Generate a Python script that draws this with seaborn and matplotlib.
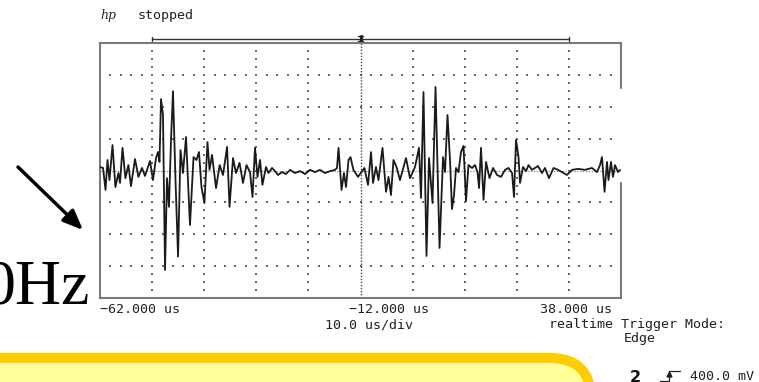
import numpy as np
import pandas as pd
import matplotlib
matplotlib.use("Agg")
import matplotlib.pyplot as plt
import seaborn as sns
from matplotlib.patches import FancyBboxPatch

# --- trace (time in us, amplitude in divisions) ---
time_us = [
    -62.00, -61.42, -60.94, -60.56, -60.18, -59.60, -59.04, -58.47, -58.16, -57.68,
    -57.12, -56.55, -56.05, -55.28, -54.63, -53.94, -53.36, -52.40, -51.83, -51.25,
    -50.87, -50.58, -50.29, -49.91, -49.52, -49.14, -48.76, -48.37, -47.99, -47.51,
    -47.02, -46.55, -46.07, -45.49, -45.11, -44.73, -44.05, -43.49, -43.00, -42.52,
    -41.96, -41.37, -40.98, -40.50, -39.73, -39.03, -38.39, -37.61, -37.14, -36.47,
    -35.90, -35.22, -34.55, -33.88, -33.21, -32.73, -32.25, -31.77, -31.29, -30.82,
    -30.14, -29.66, -28.98, -28.41, -27.83, -27.07, -26.30, -25.53, -24.57, -23.61,
    -22.65, -21.69, -20.73, -19.77, -18.81, -17.85, -16.89, -16.51, -16.22, -15.64,
    -15.17, -14.78, -14.30, -13.92, -13.36, -12.48, -11.25, -10.56, -9.98, -9.60,
    -9.03, -8.55, -7.78, -7.10, -6.62, -6.15, -5.67, -5.09, -4.42, -3.27,
    -2.50, -1.54, -0.77, -0.39, 0.09, 0.67, 1.15, 1.82, 2.40, 3.17,
    3.84, 4.22, 4.70, 5.18, 5.56, 5.95, 6.33, 6.81, 7.29, 7.77,
    8.25, 8.73, 9.40, 9.98, 10.46, 10.75, 11.13, 11.61, 12.09, 12.76,
    13.44, 14.20, 14.97, 15.74, 16.41, 17.09, 17.46, 17.85, 18.33, 18.62,
    19.19, 19.77, 20.25, 20.92, 21.50, 22.07, 22.84, 23.41, 24.18, 25.05,
    25.91, 26.68, 27.64, 28.60, 29.75, 31.09, 32.43, 33.39, 33.97, 34.35,
    34.84, 35.31, 35.60, 36.08, 36.46, 36.85, 37.42, 37.81,
]
amp_div = [
    0.11, 0.08, -0.61, 0.33, -0.30, 0.80, -0.52, -0.08, -0.39, 0.71,
    -0.24, 0.17, -0.49, 0.36, -0.20, 0.08, -0.17, 0.30, -0.30, 0.39,
    0.58, 0.27, 2.24, 1.74, -3.12, -0.24, -1.14, 0.96, 2.49, -0.30,
    -2.70, 0.64, -0.08, 1.05, -0.30, -1.71, 0.42, 0.33, 0.58, -0.52,
    -1.02, 0.89, 0.02, 0.49, -0.55, 0.17, -0.14, 0.74, -1.14, 0.39,
    -0.08, 0.24, -0.39, 0.17, -0.05, -0.83, 0.71, -0.20, 0.33, -0.45,
    0.11, -0.08, 0.08, -0.02, -0.14, -0.05, -0.11, 0.02, -0.08, -0.02,
    -0.11, 0.02, -0.05, 0.02, -0.08, -0.02, 0.02, 0.08, 0.71, -0.61,
    -0.08, -0.52, 0.33, 0.42, 0.02, -0.20, 0.08, -0.45, 0.58, -0.39,
    0.11, -0.30, 0.71, -0.67, -0.20, -0.77, 0.33, 0.11, -0.30, 0.39,
    -0.24, 0.11, 0.71, -0.86, 2.46, -2.68, 0.39, -1.02, 2.62, -2.43,
    0.42, -0.05, 1.74, 0.33, -1.21, -0.77, 0.08, -0.05, 0.58, 0.77,
    -0.96, 0.17, 0.08, 0.17, -0.05, -0.55, 0.71, -0.92, 0.27, -0.24,
    0.08, -0.14, -0.20, 0.02, 0.08, -0.08, -0.83, 0.96, 0.42, -0.39,
    0.11, -0.02, 0.17, 0.02, 0.08, 0.14, -0.08, 0.08, -0.24, 0.08,
    0.02, -0.05, -0.14, 0.02, 0.05, 0.02, 0.08, -0.05, 0.17, 0.42,
    -0.67, 0.27, -0.30, 0.27, -0.20, 0.17, -0.05, 0.02,
]

# scope settings
T_LEFT, T_CENTER, T_RIGHT = -62.0, -12.0, 38.0
US_PER_DIV = 10.0
N_VDIV = 4
left_label = "\u221262.000 us"
center_label = "\u221212.000 us"
right_label = "38.000 us"
timebase_label = "10.0 us/div"
trig_label = "realtime Trigger Mode:"
trig_mode = "Edge"
chan_label = "2"
level_label = "400.0 mV"

sns.set_style("white")
plt.rcParams["font.family"] = ["DejaVu Sans"]

W, H = 759, 382
fig = plt.figure(figsize=(W / 100, H / 100), dpi=100)

# background layer in pixel units (for slide decorations)
bg = fig.add_axes([0, 0, 1, 1], zorder=0)
bg.set_xlim(0, W)
bg.set_ylim(H, 0)
bg.axis("off")

# scope screen
ax = fig.add_axes([100 / W, 1 - 298 / H, 521 / W, 255 / H], zorder=2)
ax.set_facecolor("white")

df = pd.DataFrame({"t": time_us, "v": amp_div})
sns.lineplot(data=df, x="t", y="v", ax=ax, color="#1a1a1a", linewidth=1.3,
             estimator=None, sort=False, zorder=5)

ax.set_xlim(T_LEFT, T_RIGHT)
ax.set_ylim(-N_VDIV, N_VDIV)
ax.set_xlabel("")
ax.set_ylabel("")
ax.set_xticks([])
ax.set_yticks([])

# graticule dots
grid_cols = [c for c in np.arange(T_LEFT + US_PER_DIV, T_RIGHT, US_PER_DIV) if abs(c - T_CENTER) > 1e-6]
grid_rows = [r for r in range(-N_VDIV + 1, N_VDIV) if r != 0]
row_x = np.arange(T_LEFT + 2, T_RIGHT - 1, 2.0)
rx, ry = np.meshgrid(row_x, grid_rows)
ax.scatter(rx.ravel(), ry.ravel(), s=1.3, marker="s", color="#666666", linewidths=0, zorder=1)
col_y = np.arange(-N_VDIV + 0.25, N_VDIV, 0.25)
cx, cy = np.meshgrid(grid_cols, col_y)
ax.scatter(cx.ravel(), cy.ravel(), s=1.3, marker="s", color="#666666", linewidths=0, zorder=1)

# centre axes (denser dotting)
ax.plot([T_LEFT, T_RIGHT], [0, 0], color="#8a8a8a", lw=0.8, ls=(0, (1.2, 1.4)), zorder=2)
ax.plot([T_CENTER, T_CENTER], [-N_VDIV, 4.12], color="#444444", lw=1.0, ls=(0, (1, 1.2)),
        zorder=2, clip_on=False)

# frame
for side in ["left", "top", "bottom"]:
    ax.spines[side].set_color("#7a7a7a")
    ax.spines[side].set_linewidth(1.5)
ax.spines["right"].set_visible(False)
ax.plot([T_RIGHT, T_RIGHT], [N_VDIV, 2.58], color="#7a7a7a", lw=1.5, clip_on=False, zorder=6)
ax.plot([T_RIGHT, T_RIGHT], [-0.39, -N_VDIV], color="#7a7a7a", lw=1.5, clip_on=False, zorder=6)

# acquisition bar above the screen with trigger marker
ax.plot([-52, 28], [4.13, 4.13], color="#333333", lw=1.0, clip_on=False)
for xe in (-52, 28):
    ax.plot([xe, xe], [4.07, 4.19], color="#333333", lw=1.0, clip_on=False)
ax.plot([T_CENTER, T_CENTER], [4.06, 4.22], color="#222222", lw=2.2, clip_on=False)
ax.plot([T_CENTER - 0.55, T_CENTER + 0.55], [4.21, 4.21], color="#222222", lw=1.0, clip_on=False)
ax.plot([T_CENTER - 0.55, T_CENTER + 0.55], [4.07, 4.07], color="#222222", lw=1.0, clip_on=False)

# scope text
mono = dict(family="DejaVu Sans Mono", fontsize=9.6, color="#222222")
bg.text(100, 19, "hp", fontsize=9, style="italic", family="DejaVu Serif", color="#222222", va="baseline")
bg.text(138, 18.5, "stopped", va="baseline", **mono)
bg.text(100, 313, left_label, va="baseline", **mono)
bg.text(349, 313, center_label, va="baseline", **mono)
bg.text(540, 313, right_label, va="baseline", **mono)
bg.text(325, 328, timebase_label, va="baseline", **mono)
bg.text(549, 328, trig_label, va="baseline", **mono)
bg.text(624, 342, trig_mode, va="baseline", **mono)
bg.text(630, 381.5, chan_label, va="baseline", fontsize=11.5, fontweight="bold", color="#111111")
bg.text(690, 380, level_label, va="baseline", **mono)

# rising edge symbol
bg.plot([660, 669, 669, 680], [380.5, 380.5, 370.5, 370.5], color="#222222", lw=0.9)
bg.plot([669], [373.5], marker="^", ms=3.5, color="#222222")

# slide annotation: big serif text and arrow
bg.text(90, 304, "0Hz", family="Liberation Serif", fontsize=46, ha="right", va="baseline", color="black")
bg.annotate("", xy=(83, 230), xytext=(18, 167),
            arrowprops=dict(arrowstyle="-|>,head_length=0.6,head_width=0.25", lw=2.5,
                            color="black", mutation_scale=20, shrinkA=0, shrinkB=0))

# yellow callout box
callout = FancyBboxPatch((-60, 358), 651, 200, boxstyle="round,pad=0,rounding_size=41",
                         facecolor="#FFFF99", edgecolor="#FFCC00", linewidth=7.2)
bg.add_patch(callout)

fig.savefig("out.png", dpi=100)
